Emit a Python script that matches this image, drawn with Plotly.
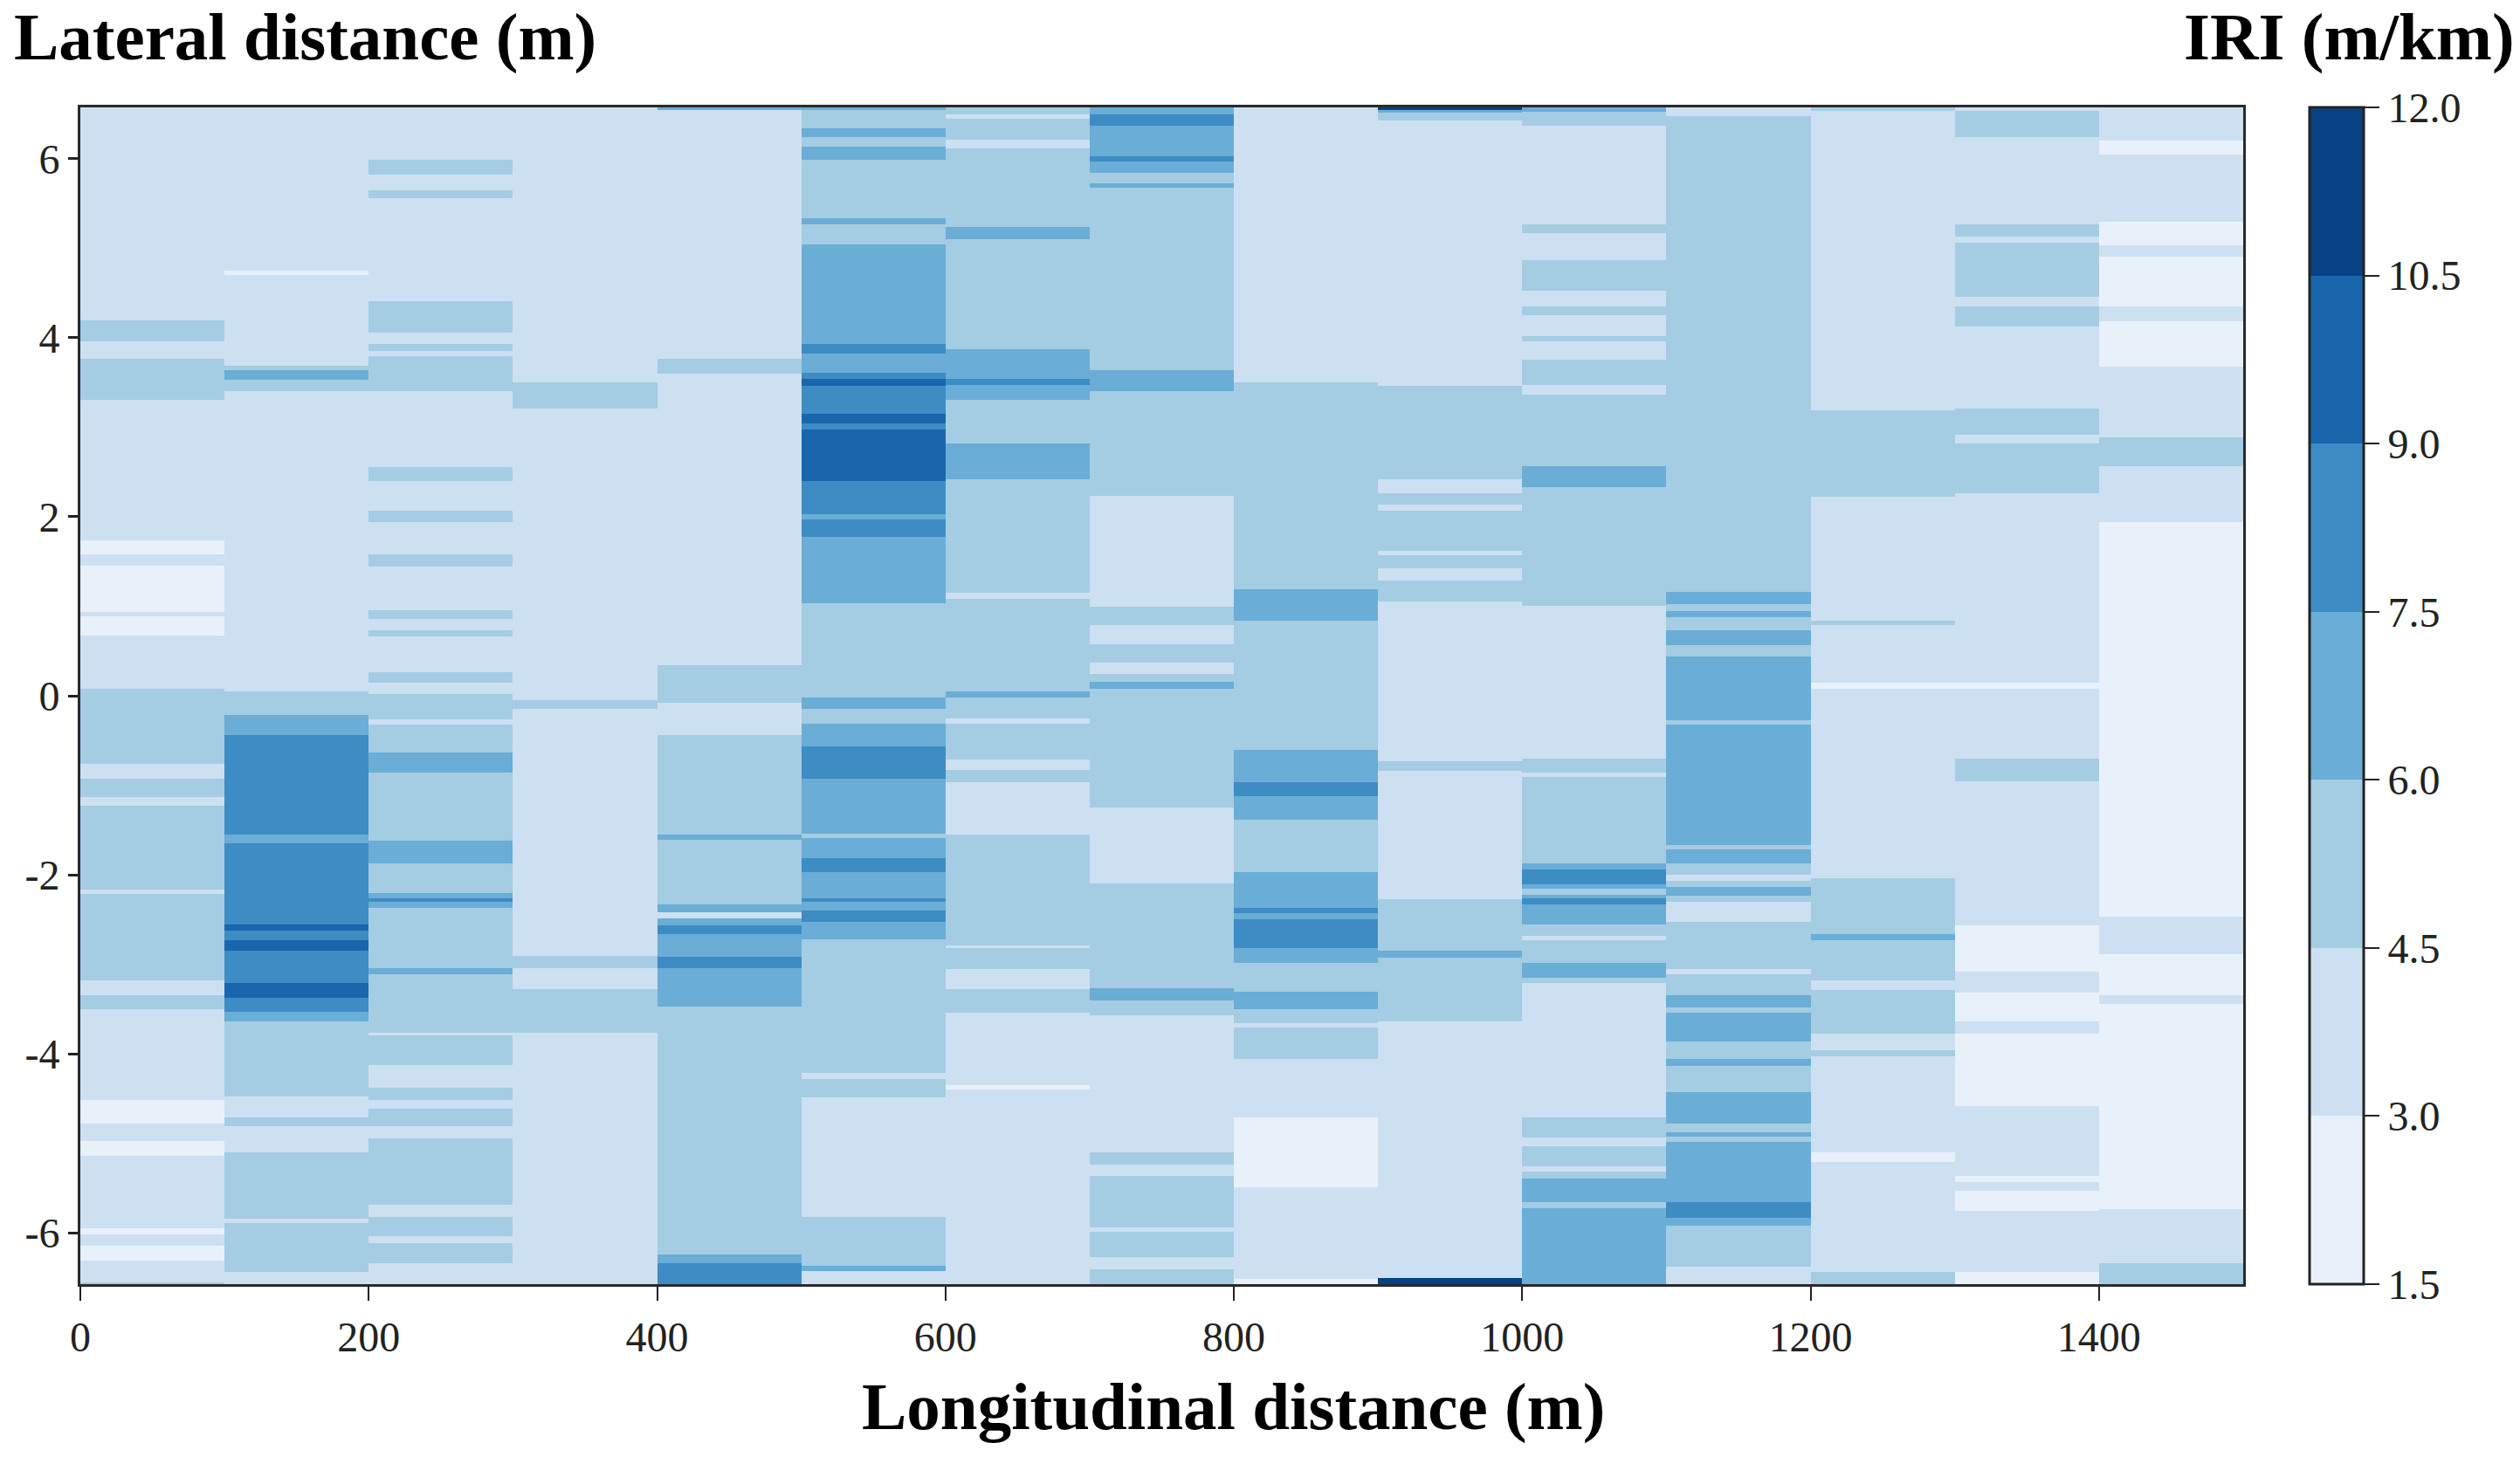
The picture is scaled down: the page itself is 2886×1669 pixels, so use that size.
import plotly.graph_objects as go

# IRI class mid-values (m/km)
A, B, C, D, E, F, G = 2.25, 3.75, 5.25, 6.75, 8.25, 9.75, 11.25

bin_edges = [1.5, 3.0, 4.5, 6.0, 7.5, 9.0, 10.5, 12.0]
bin_colors = ["#E8F1FA", "#CDE0F1", "#A4CCE3", "#6AADD6", "#3D8CC4", "#1966AD", "#084285"]
cbar_ticks = [1.5, 3.0, 4.5, 6.0, 7.5, 9.0, 10.5, 12.0]
x_ticks = [0, 200, 400, 600, 800, 1000, 1200, 1400]
y_ticks = [-6, -4, -2, 0, 2, 4, 6]
y_tick_labels = ["-6", "-4", "-2", "0", "2", "4", "6"]

lat_top = 6.575
lat_bottom = -6.575
section_length = 100

# every section: (lower lateral edge of the band, IRI class), from top to bottom
s0 = [(4.19,B),(3.96,C),(3.77,B),(3.31,C),(1.74,B),(1.58,A),(1.45,B),(0.94,A),(0.885,B),(0.67,A),(0.08,B),
      (-0.764,C),(-0.927,B),(-1.128,C),(-1.229,B),(-2.163,C),(-2.211,B),(-3.18,C),(-3.343,B),(-3.506,C),
      (-4.513,B),(-4.78,A),(-4.975,B),(-5.137,A),(-5.95,B),(-6.022,A),(-6.145,B),(-6.315,A),(-6.552,B),(lat_bottom,C)]
s1 = [(4.749,B),(4.706,A),(3.692,B),(3.637,C),(3.529,D),(3.409,C),(0.049,B),(-0.211,C),(-0.439,D),(-1.551,E),
      (-1.649,D),(-2.553,E),(-2.628,F),(-2.732,E),(-2.846,F),(-3.213,E),(-3.376,F),(-3.528,E),(-3.642,D),
      (-4.481,C),(-4.708,B),(-4.812,C),(-5.105,B),(-5.846,C),(-5.892,B),(-6.438,C),(lat_bottom,B)]
s2 = [(5.985,B),(5.822,C),(5.653,B),(5.562,C),(4.414,B),(4.059,C),(3.929,B),(3.854,C),(3.796,B),(3.409,C),
      (2.553,B),(2.40,C),(2.065,B),(1.945,C),(1.578,B),(1.448,C),(0.953,B),(0.862,C),(0.732,B),(0.667,C),
      (0.267,B),(0.147,C),(0.017,B),(-0.267,C),(-0.319,B),(-0.634,C),(-0.862,D),(-1.616,C),(-1.876,D),
      (-2.202,C),(-2.26,D),(-2.302,E),(-2.367,D),(-3.04,C),(-3.115,D),(-3.765,C),(-3.798,B),(-4.123,C),
      (-4.383,B),(-4.513,C),(-4.617,B),(-4.806,C),(-4.942,B),(-5.69,C),(-5.827,B),(-6.042,C),(-6.113,B),
      (-6.341,C),(lat_bottom,B)]
s3 = [(3.503,B),(3.214,C),(-0.048,B),(-0.146,C),(-2.91,B),(-3.047,C),(-3.278,B),(-3.765,C),(lat_bottom,B)]
s4 = [(6.55,D),(3.763,B),(3.604,C),(0.342,B),(-0.081,C),(-0.439,B),(-1.551,C),(-1.61,D),(-2.332,C),(-2.423,D),
      (-2.488,B),(-2.569,D),(-2.66,E),(-2.92,D),(-3.047,E),(-3.473,D),(-6.243,C),(-6.341,D),(lat_bottom,E)]
s5 = [(6.544,D),(6.342,C),(6.245,D),(6.14,C),(5.985,D),(5.334,C),(5.263,D),(5.041,C),(3.929,D),(3.822,E),
      (3.61,D),(3.539,E),(3.464,F),(3.155,E),(3.041,F),(2.976,E),(2.40,F),(2.033,E),(1.968,D),(1.773,E),
      (1.035,D),(-0.016,C),(-0.146,D),(-0.309,C),(-0.569,D),(-0.927,E),(-1.545,D),(-1.593,C),(-1.815,D),
      (-1.967,E),(-2.26,D),(-2.302,E),(-2.4,D),(-2.53,E),(-2.722,D),(-4.211,C),(-4.285,B),(-4.487,C),
      (-5.82,B),(-6.367,C),(-6.432,D),(lat_bottom,B)]
s6 = [(6.498,C),(6.446,B),(6.212,C),(6.115,B),(5.237,C),(5.10,D),(3.871,C),(3.539,D),(3.474,E),(3.308,D),
      (2.82,C),(2.423,D),(1.155,C),(1.083,B),(0.049,C),(-0.016,D),(-0.254,C),(-0.309,B),(-0.709,C),(-0.829,B),
      (-0.969,C),(-1.551,B),(-2.79,C),(-2.823,B),(-3.057,C),(-3.278,B),(-3.538,C),(-4.351,B),(-4.396,A),
      (lat_bottom,B)]
s7 = [(6.498,D),(6.368,E),(6.024,D),(5.968,E),(5.848,D),(5.731,C),(5.676,D),(3.643,C),(3.406,D),(2.238,C),
      (0.992,B),(0.791,C),(0.576,B),(0.368,C),(0.244,B),(0.157,C),(0.082,D),(-1.252,C),(-2.097,B),(-3.268,C),
      (-3.408,D),(-3.571,C),(-5.098,B),(-5.235,C),(-5.365,B),(-5.944,C),(-5.99,B),(-6.276,C),(-6.406,B),
      (lat_bottom,C)]
s8 = [(3.503,B),(1.187,C),(0.84,D),(-0.602,C),(-0.969,D),(-1.122,E),(-1.389,D),(-1.967,C),(-2.367,D),(-2.432,E),
      (-2.497,D),(-2.823,E),(-2.982,D),(-3.31,C),(-3.506,D),(-3.658,C),(-3.707,B),(-4.058,C),(-4.715,B),
      (-5.495,A),(-6.52,B),(lat_bottom,A)]
s9 = [(6.544,G),(6.52,D),(6.433,C),(3.464,B),(2.423,C),(2.261,B),(2.14,C),(2.066,B),(1.62,C),(1.571,B),(1.422,C),
      (1.285,B),(1.057,C),(-0.732,B),(-0.839,C),(-2.27,B),(-2.846,C),(-2.927,D),(-3.642,C),(-6.51,B),(lat_bottom,G)]
s10 = [(6.526,D),(6.373,C),(5.271,B),(5.167,C),(4.871,B),(4.522,C),(4.348,B),(4.252,C),(4.021,B),(3.965,C),
       (3.76,B),(3.477,C),(3.368,B),(2.562,C),(2.332,D),(1.003,C),(-0.701,B),(-0.86,C),(-0.911,B),(-1.869,C),
       (-1.942,D),(-2.105,E),(-2.157,D),(-2.225,C),(-2.264,D),(-2.333,E),(-2.556,D),(-2.685,C),(-2.732,B),
       (-2.985,C),(-3.149,D),(-3.213,C),(-4.716,B),(-4.939,C),(-5.038,B),(-5.261,C),(-5.317,B),(-5.398,C),
       (-5.66,D),(-5.725,C),(lat_bottom,D)]
s11 = [(6.474,B),(1.16,C),(1.025,D),(0.942,C),(0.877,D),(0.733,C),(0.568,D),(0.437,C),(-0.272,D),(-0.323,C),
       (-1.667,D),(-1.719,C),(-1.869,D),(-1.998,C),(-2.071,B),(-2.139,C),(-2.234,D),(-2.307,C),(-2.526,B),
       (-3.05,C),(-3.114,B),(-3.342,C),(-3.479,D),(-3.543,C),(-3.865,D),(-4.059,C),(-4.132,D),(-4.424,C),
       (-4.78,D),(-4.875,C),(-4.93,D),(-4.982,C),(-5.66,D),(-5.832,E),(-5.926,D),(-6.377,C),(lat_bottom,B)]
s12 = [(6.534,C),(3.194,B),(2.227,C),(0.842,B),(0.79,C),(0.145,B),(0.08,A),(-2.041,B),(-2.663,C),(-2.728,D),
       (-3.179,C),(-3.286,B),(-3.771,C),(-3.964,B),(-4.029,C),(-5.102,B),(-5.205,A),(-6.442,B),(lat_bottom,C)]
s13 = [(6.534,B),(6.243,C),(5.271,B),(5.132,C),(5.067,B),(4.457,C),(4.348,B),(4.122,C),(3.207,B),(2.92,C),
       (2.815,B),(2.266,C),(0.145,B),(0.08,A),(-0.701,B),(-0.959,C),(-2.564,B),(-3.084,A),(-3.316,B),(-3.642,A),
       (-3.771,B),(-4.583,A),(-5.368,B),(-5.433,A),(-5.531,B),(-5.755,A),(-6.442,B),(lat_bottom,A)]
s14 = [(6.208,B),(6.047,A),(5.298,B),(5.036,A),(4.906,B),(4.348,A),(4.187,B),(3.673,A),(2.889,B),(2.562,C),
       (1.94,B),(-2.47,A),(-2.887,B),(-3.35,A),(-3.445,B),(-5.733,A),(-6.343,B),(lat_bottom,C)]

sections = [s0, s1, s2, s3, s4, s5, s6, s7, s8, s9, s10, s11, s12, s13, s14]

zmin, zmax = bin_edges[0], bin_edges[-1]
n_bins = len(bin_colors)
colorscale = []
for i, c in enumerate(bin_colors):
    colorscale.append([i / n_bins, c])
    colorscale.append([(i + 1) / n_bins, c])

# one grid shared by all sections, so that neighbouring sections join without seams
y_edges = sorted({lat_top} | {b[0] for sec in sections for b in sec})
x_edges = [k * section_length for k in range(len(sections) + 1)]


def class_at(sec, y_mid):
    for lower, value in sec:
        if y_mid > lower:
            return value
    return sec[-1][1]


z = []
for lo, hi in zip(y_edges[:-1], y_edges[1:]):
    mid = (lo + hi) / 2
    z.append([class_at(sec, mid) for sec in sections])

FONT = "Liberation Serif"
TICK_SIZE = 48
TITLE_SIZE = 77

fig = go.Figure(go.Heatmap(
    x=x_edges, y=y_edges, z=z,
    zmin=zmin, zmax=zmax,
    colorscale=colorscale,
    colorbar=dict(
        x=1.0307, xanchor="left", xpad=0, y=0.5, yanchor="middle", ypad=0,
        len=1, lenmode="fraction", thickness=62, thicknessmode="pixels",
        outlinewidth=3, outlinecolor="#222222",
        tickmode="array", tickvals=cbar_ticks, ticktext=[f"{t:.1f}" for t in cbar_ticks],
        ticks="outside", ticklen=17, tickwidth=2, tickcolor="#222222",
        tickfont=dict(family=FONT, size=TICK_SIZE, color="#222222"),
    ),
))

fig.update_xaxes(range=[0, 1500], tickvals=x_ticks, ticks="outside", ticklen=16, tickwidth=2,
                 tickcolor="#222222", showline=True, linewidth=3, linecolor="#2a2a2a", mirror=True,
                 showgrid=False, zeroline=False,
                 tickfont=dict(family=FONT, size=TICK_SIZE, color="#222222"))
fig.update_yaxes(range=[lat_bottom, lat_top], tickvals=y_ticks, ticktext=y_tick_labels, ticks="outside",
                 ticklen=11, tickwidth=3, tickcolor="#222222", showline=True, linewidth=3,
                 linecolor="#2a2a2a", mirror=True, showgrid=False, zeroline=False,
                 tickfont=dict(family=FONT, size=TICK_SIZE, color="#222222"))

title_font = dict(family=FONT, size=TITLE_SIZE, color="black")
fig.update_layout(
    width=2886, height=1669, autosize=False,
    margin=dict(l=84, r=325, t=115, b=206, autoexpand=False),
    paper_bgcolor="white", plot_bgcolor="white",
    font=dict(family=FONT),
    annotations=[
        dict(text="<b>Lateral distance (m)</b>", xref="paper", yref="paper", x=-0.0315, y=1.0601,
             xanchor="left", yanchor="middle", showarrow=False, font=title_font),
        dict(text="<b>IRI (m/km)</b>", xref="paper", yref="paper", x=1.1265, y=1.0601,
             xanchor="right", yanchor="middle", showarrow=False, font=title_font),
        dict(text="<b>Longitudinal distance (m)</b>", xref="paper", yref="paper", x=0.533, y=-0.1035,
             xanchor="center", yanchor="middle", showarrow=False, font=title_font),
    ],
)
fig.write_html("out.html")
